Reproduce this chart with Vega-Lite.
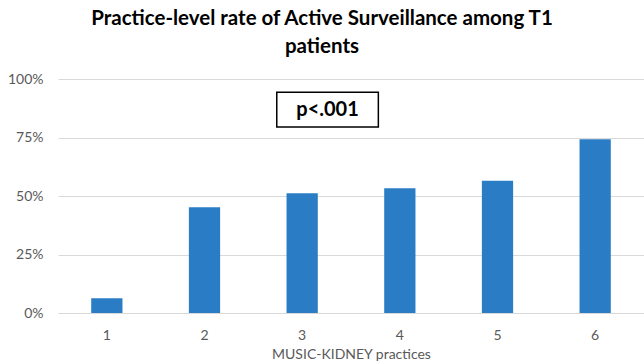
{
  "$schema": "https://vega.github.io/schema/vega-lite/v6.json",
  "width": 586,
  "height": 234,
  "autosize": {"type": "none"},
  "padding": {"left": 58, "top": 79, "right": 0, "bottom": 50},
  "background": "white",
  "title": {
    "text": ["Practice-level rate of Active Surveillance among T1", "patients"],
    "font": "Lato",
    "fontSize": 20.5,
    "fontWeight": "bold",
    "color": "#000000",
    "anchor": "middle",
    "dx": -29,
    "offset": 15,
    "lineHeight": 28
  },
  "config": {
    "view": {"stroke": null},
    "axis": {"labelFont": "Lato", "titleFont": "Lato", "labelColor": "#595959", "titleColor": "#595959"}
  },
  "datasets": {
    "bars": [
      {"practice": "1", "rate": 0.063},
      {"practice": "2", "rate": 0.452},
      {"practice": "3", "rate": 0.512},
      {"practice": "4", "rate": 0.533},
      {"practice": "5", "rate": 0.565},
      {"practice": "6", "rate": 0.742}
    ],
    "note": [
      {"label": "p<.001", "x1": 2.24, "x2": 3.28, "xm": 2.76, "y1": 0.795, "y2": 0.943, "ym": 0.869}
    ]
  },
  "layer": [
    {
      "data": {"name": "bars"},
      "mark": {"type": "bar", "color": "#2a7dc4"},
      "encoding": {
        "x": {
          "field": "practice", "type": "ordinal",
          "scale": {"paddingInner": 0.68, "paddingOuter": 0.34},
          "axis": {"title": "MUSIC-KIDNEY practices", "labelAngle": 0, "labelFontSize": 14, "titleFontSize": 14, "titleFontWeight": "normal", "ticks": false, "domain": false, "labelPadding": 15, "titlePadding": 5}
        },
        "y": {
          "field": "rate", "type": "quantitative",
          "scale": {"domain": [0, 1]},
          "axis": {"title": null, "format": "%", "values": [0, 0.25, 0.5, 0.75, 1], "labelFontSize": 14, "ticks": false, "domain": false, "labelPadding": 15, "gridColor": "#d9d9d9"}
        }
      }
    },
    {
      "data": {"name": "note"},
      "mark": {"type": "rect", "fill": "white", "stroke": "#000000", "strokeWidth": 1.5},
      "encoding": {
        "x": {"field": "x1", "type": "quantitative", "scale": {"domain": [0, 6]}, "axis": null},
        "x2": {"field": "x2"},
        "y": {"field": "y1", "type": "quantitative", "scale": {"domain": [0, 1]}, "axis": null},
        "y2": {"field": "y2"}
      }
    },
    {
      "data": {"name": "note"},
      "mark": {"type": "text", "font": "Lato", "fontSize": 20, "fontWeight": "bold", "color": "#000000", "baseline": "middle", "align": "center"},
      "encoding": {
        "x": {"field": "xm", "type": "quantitative", "scale": {"domain": [0, 6]}, "axis": null},
        "y": {"field": "ym", "type": "quantitative", "scale": {"domain": [0, 1]}, "axis": null},
        "text": {"field": "label"}
      }
    }
  ],
  "resolve": {"scale": {"x": "independent", "y": "independent"}, "axis": {"x": "independent", "y": "independent"}}
}
